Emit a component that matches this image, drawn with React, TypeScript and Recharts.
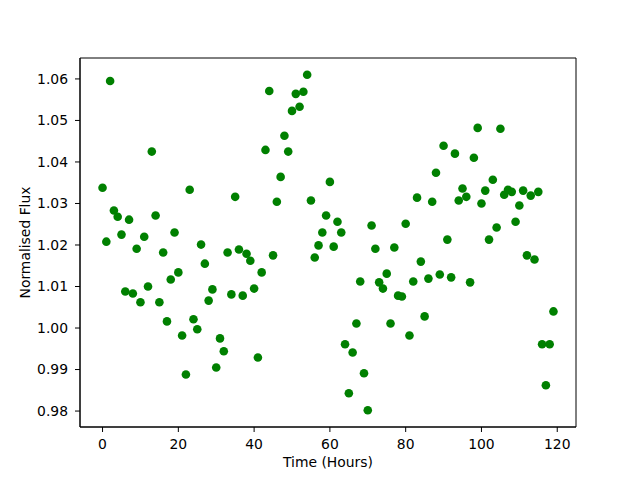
import { ScatterChart, Scatter, XAxis, YAxis, ReferenceArea } from 'recharts';

// hourly samples, normalised flux
const hours = Array.from({ length: 120 }, (_, i) => i);
const flux = [
  1.0338, 1.0208, 1.0595, 1.0283, 1.0268, 1.0225, 1.0088, 1.0261, 1.0083, 1.0191,
  1.0062, 1.022, 1.01, 1.0425, 1.0271, 1.0062, 1.0182, 1.0016, 1.0117, 1.023,
  1.0134, 0.9982, 0.9888, 1.0333, 1.0021, 0.9997, 1.0201, 1.0155, 1.0066, 1.0093,
  0.9905, 0.9975, 0.9944, 1.0182, 1.0081, 1.0316, 1.0189, 1.0078, 1.0179, 1.0162,
  1.0095, 0.9929, 1.0134, 1.0429, 1.0571, 1.0175, 1.0304, 1.0364, 1.0463, 1.0425,
  1.0523, 1.0564, 1.0533, 1.0569, 1.061, 1.0307, 1.017, 1.0199, 1.023, 1.0271,
  1.0352, 1.0196, 1.0256, 1.023, 0.9961, 0.9843, 0.9941, 1.0011, 1.0112, 0.9891,
  0.9802, 1.0247, 1.0191, 1.011, 1.0095, 1.0131, 1.0011, 1.0194, 1.0078, 1.0076,
  1.0251, 0.9982, 1.0112, 1.0314, 1.016, 1.0028, 1.0119, 1.0304, 1.0374, 1.0129,
  1.0439, 1.0213, 1.0122, 1.042, 1.0307, 1.0336, 1.0316, 1.011, 1.041, 1.0482,
  1.03, 1.0331, 1.0213, 1.0357, 1.0242, 1.048, 1.0321, 1.0333, 1.0328, 1.0256,
  1.0295, 1.0331, 1.0175, 1.0319, 1.0165, 1.0328, 0.9961, 0.9862, 0.9961, 1.004,
];
const xTicks = [0, 20, 40, 60, 80, 100, 120];
const yTicks = [0.98, 0.99, 1.0, 1.01, 1.02, 1.03, 1.04, 1.05, 1.06];

const data = hours.map((h, i) => ({ x: h, y: flux[i] }));

const X_DOMAIN: [number, number] = [-5.95, 124.95];
const Y_DOMAIN: [number, number] = [0.97616, 1.06504];
const font = { fontFamily: 'DejaVu Sans', fontSize: 13.9, fill: '#000' };

const Dot = (props: any) => <circle cx={props.cx} cy={props.cy} r={4.3} fill="#008000" />;

export default function App() {
  return (
    <div style={{ position: 'absolute', left: 0, top: 0, background: '#fff' }}>
      <ScatterChart width={640} height={480} margin={{ top: 58, right: 64, bottom: 3, left: 0 }}>
        <XAxis
          type="number"
          dataKey="x"
          domain={X_DOMAIN}
          ticks={xTicks}
          allowDataOverflow
          height={50}
          tickSize={5}
          tickMargin={7}
          stroke="#000"
          tick={font}
          label={{ value: 'Time (Hours)', position: 'insideBottom', offset: 10, style: { ...font, textAnchor: 'middle' } }}
        />
        <YAxis
          type="number"
          dataKey="y"
          domain={Y_DOMAIN}
          ticks={yTicks}
          allowDataOverflow
          width={80}
          tickSize={5}
          tickMargin={7}
          stroke="#000"
          tick={font}
          tickFormatter={(v: number) => v.toFixed(2)}
          label={{ value: 'Normalised Flux', angle: -90, position: 'insideLeft', offset: 25, style: { ...font, textAnchor: 'middle' } }}
        />
        <ReferenceArea x1={X_DOMAIN[0]} x2={X_DOMAIN[1]} y1={Y_DOMAIN[0]} y2={Y_DOMAIN[1]} fill="none" stroke="#000" strokeOpacity={1} fillOpacity={0} />
        <Scatter data={data} shape={Dot} isAnimationActive={false} />
      </ScatterChart>
    </div>
  );
}
